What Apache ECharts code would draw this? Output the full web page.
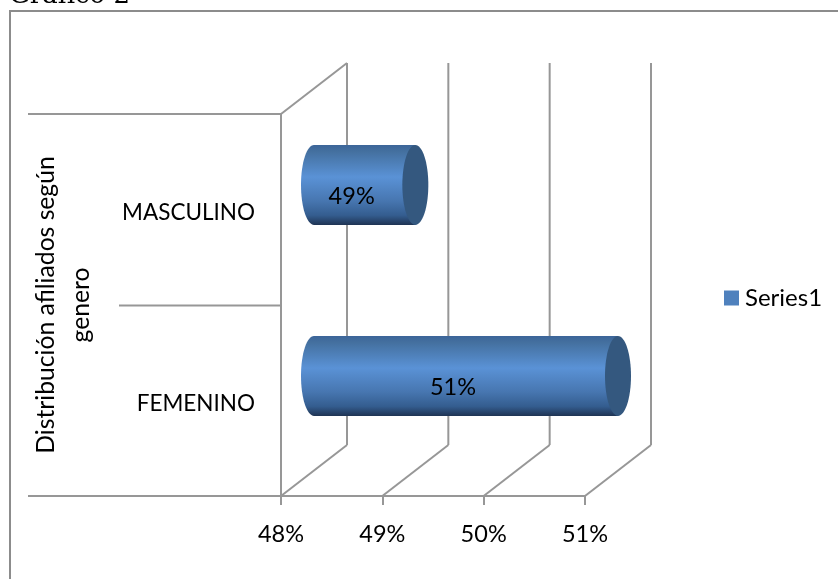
<!DOCTYPE html>
<html><head><meta charset="utf-8">
<style>html,body{margin:0;padding:0;background:#fff}#c{width:838px;height:579px}</style>
<script src="https://cdn.jsdelivr.net/npm/echarts@6/dist/echarts.min.js"></script>
</head><body><div id="c"></div>
<script>
const categories = ['MASCULINO', 'FEMENINO'];
const values = [49, 51];
const xMin = 48, xMax = 51, xStep = 1;
const ticks = [48, 49, 50, 51];
const seriesName = 'Series1';
const axisTitle = 'Distribución afiliados según\ngenero';
const pageTitle = 'Gráfico 2';

const GRAY = '#979797', FONT = 'Lato';
const DX = 66, DY = -51;
const ln = (x1, y1, x2, y2) => ({type:'line', shape:{x1,y1,x2,y2}, style:{stroke:GRAY, lineWidth:2}});
const chart = echarts.init(document.getElementById('c'));
chart.setOption({
  animation:false,
  backgroundColor:'#fff',
  textStyle:{fontFamily:FONT},
  grid:{left:281, top:114, width:304, height:382, containLabel:false, outerBoundsMode:'none'},
  legend:{data:[seriesName], left:724, top:286, padding:0, itemWidth:15, itemHeight:15, itemGap:0, icon:'rect',
    textStyle:{fontSize:24, color:'#000', fontFamily:FONT, padding:[0,0,0,1]}},
  xAxis:{type:'value', min:xMin, max:xMax, interval:xStep,
    axisLine:{show:true, lineStyle:{color:GRAY, width:2}},
    axisTick:{show:true, length:9, lineStyle:{color:GRAY, width:2}},
    splitLine:{show:false},
    axisLabel:{formatter:'{value}%', fontSize:23.5, color:'#000', margin:26, fontFamily:FONT}},
  yAxis:{type:'category', inverse:true, data:categories,
    axisLine:{show:true, lineStyle:{color:GRAY, width:2}},
    axisTick:{show:false},
    axisLabel:{fontSize:22.5, color:'#000', margin:26, fontFamily:FONT,
      formatter:v=>'{a|'+v+'}', rich:{a:{fontSize:22.5, color:'#000', fontFamily:FONT, padding:[6,0,0,0]}}},
    name:axisTitle, nameLocation:'middle', nameRotate:90, nameGap:182,
    nameTextStyle:{fontSize:24.7, color:'#000', lineHeight:35, fontFamily:FONT, align:'center'}},
  graphic:[
    {type:'polyline', shape:{points:[[10,579],[10,11],[838,11]]}, style:{fill:null, stroke:'#8c8c8c', lineWidth:2}, z:-10},
    {type:'text', x:9, y:-17, style:{text:pageTitle, font:'26px "DejaVu Serif"', fill:'#000'}, z:5}
  ],
  series:[
    {type:'custom', name:'walls', silent:true, z:1, data:ticks.map(t=>[t]),
     encode:{x:0}, renderItem(p, api){
       const v = api.value(0);
       const top = api.coord([v,0]), bot = api.coord([v,categories.length-1]);
       const band = api.size([0,1])[1];
       const y0 = top[1]-band/2, y1 = bot[1]+band/2, x = top[0];
       const ch = [ln(x,y1,x+DX,y1+DY), ln(x+DX,y0+DY,x+DX,y1+DY)];
       if (v === xMin) ch.push(ln(x,y0,x+DX,y0+DY));
       return {type:'group', children:ch};
     }},
    {type:'custom', name:'rows', silent:true, z:1, data:categories.map((c,i)=>[xMin,i]),
     encode:{x:0,y:1}, renderItem(p, api){
       const i = api.value(1), c = api.coord([xMin,i]), band = api.size([0,1])[1];
       const ch = [];
       if (i === 0) ch.push(ln(28,c[1]-band/2,c[0],c[1]-band/2));
       else ch.push(ln(119,c[1]-band/2+0.5,c[0],c[1]-band/2+0.5));
       if (i === categories.length-1) ch.push(ln(28,c[1]+band/2,c[0],c[1]+band/2));
       return {type:'group', children:ch};
     }},
    {type:'custom', name:seriesName, z:3, itemStyle:{color:'#4F81BD'},
     data:values.map((v,i)=>[v,i]), encode:{x:0,y:1},
     renderItem(p, api){
       const v = api.value(0), i = api.value(1);
       const a = api.coord([xMin,i]), b = api.coord([v,i]);
       const band = api.size([0,1])[1];
       const ry = band*0.209, rx = 13;
       const cy = a[1]+DY/2+1, x0 = a[0]+DX/2, x1 = b[0]+DX/2;
       const grad = new echarts.graphic.LinearGradient(0,0,0,1,[
         {offset:0,color:'#3c6599'},{offset:0.08,color:'#44709f'},{offset:0.4,color:'#5a92d6'},
         {offset:0.7,color:'#4776b0'},{offset:0.88,color:'#345d8f'},{offset:1,color:'#1f3454'}]);
       return {type:'group', children:[
         {type:'ellipse', shape:{cx:x0,cy,rx,ry}, style:{fill:grad}},
         {type:'rect', shape:{x:x0,y:cy-ry,width:x1-x0,height:ry*2}, style:{fill:grad}},
         {type:'ellipse', shape:{cx:x1,cy,rx,ry}, style:{fill:'#34587f'}},
         {type:'text', x:(x0+x1)/2-13, y:cy+11, style:{text:v+'%', font:'23.5px '+FONT, fill:'#000', align:'center', verticalAlign:'middle'}}
       ]};
     }}
  ]
});
</script></body></html>
